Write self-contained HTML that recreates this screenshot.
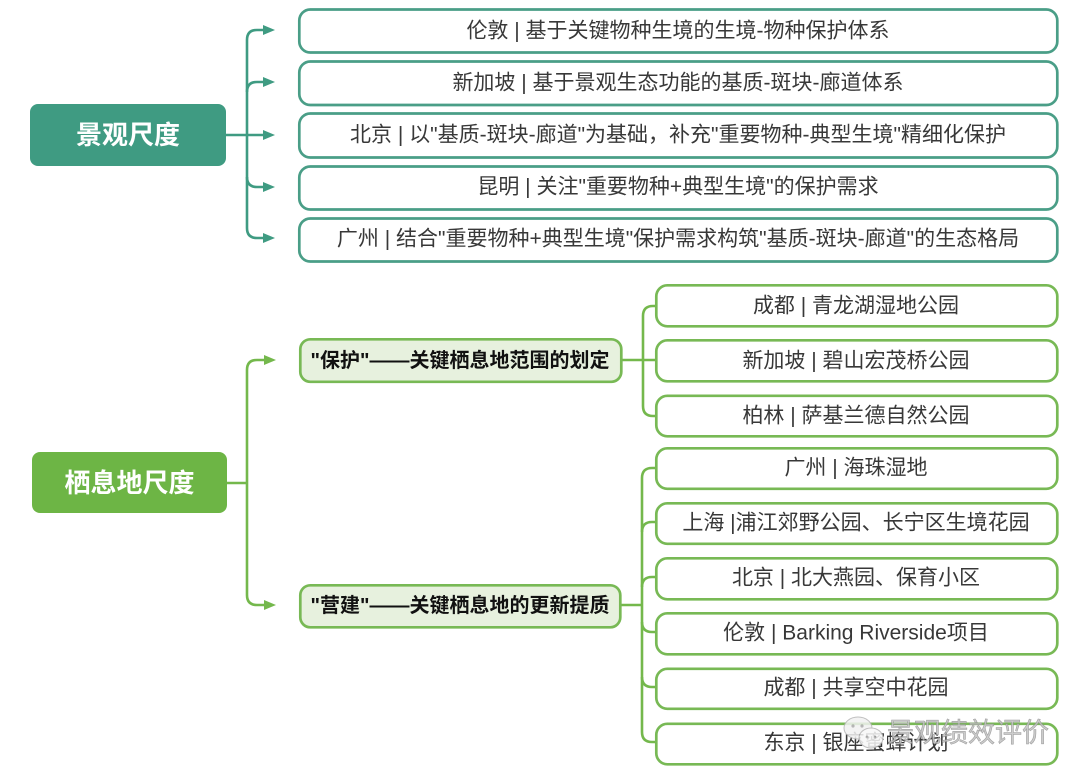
<!DOCTYPE html>
<html>
<head>
<meta charset="utf-8">
<style>
  html,body{margin:0;padding:0;background:#fff;}
  svg{display:block;}
  .t{font-family:"Liberation Sans","Noto Sans CJK SC",sans-serif;font-size:21px;fill:#383838;text-anchor:middle;dominant-baseline:central;}
  .r{font-family:"Liberation Sans","Noto Sans CJK SC",sans-serif;font-size:26px;font-weight:bold;fill:#fff;text-anchor:middle;dominant-baseline:central;}
  .s{font-family:"Liberation Sans","Noto Sans CJK SC",sans-serif;font-size:20px;font-weight:bold;fill:#111;text-anchor:middle;dominant-baseline:central;}
  .w{font-family:"Liberation Sans","Noto Sans CJK SC",sans-serif;font-size:27px;fill:#c4c4c4;stroke:#8f8f8f;stroke-width:0.6;text-anchor:start;dominant-baseline:central;opacity:0.85;}
</style>
</head>
<body>
<svg width="1080" height="783" viewBox="0 0 1080 783" xmlns="http://www.w3.org/2000/svg">
  <!-- ============ TOP SECTION (teal) ============ -->
  <g fill="none" stroke="#3f9b82" stroke-width="2.6">
    <line x1="226" y1="135" x2="264" y2="135"/>
    <line x1="247" y1="40" x2="247" y2="228"/>
    <path d="M247,40 Q247,30 257,30 L264,30"/>
    <path d="M247,92 Q247,82 257,82 L264,82"/>
    <path d="M247,177 Q247,187 257,187 L264,187"/>
    <path d="M247,228 Q247,238 257,238 L264,238"/>
  </g>
  <g fill="#3f9b82">
    <polygon points="263,25 275,30 263,35"/>
    <polygon points="263,77 275,82 263,87"/>
    <polygon points="263,130 275,135 263,140"/>
    <polygon points="263,182 275,187 263,192"/>
    <polygon points="263,233 275,238 263,243"/>
  </g>
  <rect x="30" y="104" width="196" height="62" rx="8" fill="#3f9b82"/>
  <text class="r" x="128" y="135">景观尺度</text>

  <g fill="#fff" stroke="#4a9e87" stroke-width="2.7">
    <rect x="299.3" y="9.5" width="758" height="43" rx="11"/>
    <rect x="299.3" y="61.5" width="758" height="43.5" rx="11"/>
    <rect x="299.3" y="113.5" width="758" height="44" rx="11"/>
    <rect x="299.3" y="166.5" width="758" height="43" rx="11"/>
    <rect x="299.3" y="218.5" width="758" height="43" rx="11"/>
  </g>
  <text class="t" x="678" y="31">伦敦 | 基于关键物种生境的生境-物种保护体系</text>
  <text class="t" x="678" y="83">新加坡 | 基于景观生态功能的基质-斑块-廊道体系</text>
  <text class="t" x="678" y="135">北京 | 以"基质-斑块-廊道"为基础，补充"重要物种-典型生境"精细化保护</text>
  <text class="t" x="678" y="187">昆明 | 关注"重要物种+典型生境"的保护需求</text>
  <text class="t" x="678" y="239">广州 | 结合"重要物种+典型生境"保护需求构筑"基质-斑块-廊道"的生态格局</text>

  <!-- ============ BOTTOM SECTION (green) ============ -->
  <g fill="none" stroke="#74b84c" stroke-width="2.6">
    <line x1="227" y1="483" x2="247" y2="483"/>
    <line x1="247" y1="370" x2="247" y2="595"/>
    <path d="M247,370 Q247,360 257,360 L265,360"/>
    <path d="M247,595 Q247,605 257,605 L265,605"/>
    <!-- group 1 -->
    <line x1="622" y1="360" x2="657" y2="360"/>
    <line x1="643" y1="316" x2="643" y2="406"/>
    <path d="M643,316 Q643,306 653,306 L657,306"/>
    <path d="M643,406 Q643,416 653,416 L657,416"/>
    <!-- group 2 -->
    <line x1="621" y1="605" x2="642" y2="605"/>
    <line x1="642" y1="478" x2="642" y2="732"/>
    <path d="M642,478 Q642,468 652,468 L657,468"/>
    <path d="M642,532 Q642,522 652,522 L657,522"/>
    <path d="M642,587 Q642,577 652,577 L657,577"/>
    <path d="M642,622 Q642,632 652,632 L657,632"/>
    <path d="M642,677 Q642,687 652,687 L657,687"/>
    <path d="M642,732 Q642,742 652,742 L657,742"/>
  </g>
  <g fill="#74b84c">
    <polygon points="264,355 276,360 264,365"/>
    <polygon points="264,600 276,605 264,610"/>
  </g>
  <rect x="32" y="452" width="195" height="61" rx="8" fill="#6db545"/>
  <text class="r" x="129.5" y="483">栖息地尺度</text>

  <g fill="#e7f1de" stroke="#78b955" stroke-width="2.7">
    <rect x="300.3" y="339.3" width="321" height="42.5" rx="10"/>
    <rect x="300.3" y="585.3" width="320" height="42" rx="10"/>
  </g>
  <text class="s" x="460" y="361">"保护"——关键栖息地范围的划定</text>
  <text class="s" x="460" y="606">"营建"——关键栖息地的更新提质</text>

  <g fill="#fff" stroke="#78b955" stroke-width="2.7">
    <rect x="656.3" y="285.3" width="401" height="41" rx="11"/>
    <rect x="656.3" y="340.3" width="401" height="41" rx="11"/>
    <rect x="656.3" y="395.8" width="401" height="40.5" rx="11"/>
    <rect x="656.3" y="448.3" width="401" height="40.5" rx="11"/>
    <rect x="656.3" y="503.3" width="401" height="40.5" rx="11"/>
    <rect x="656.3" y="558.3" width="401" height="41" rx="11"/>
    <rect x="656.3" y="613.3" width="401" height="41" rx="11"/>
    <rect x="656.3" y="668.8" width="401" height="40" rx="11"/>
    <rect x="656.3" y="723.8" width="401" height="40.5" rx="11"/>
  </g>
  <text class="t" x="856" y="306">成都 | 青龙湖湿地公园</text>
  <text class="t" x="856" y="361">新加坡 | 碧山宏茂桥公园</text>
  <text class="t" x="856" y="416">柏林 | 萨基兰德自然公园</text>
  <text class="t" x="856" y="468">广州 | 海珠湿地</text>
  <text class="t" x="856" y="523">上海 |浦江郊野公园、长宁区生境花园</text>
  <text class="t" x="856" y="578">北京 | 北大燕园、保育小区</text>
  <text class="t" x="856" y="633">伦敦 | Barking Riverside项目</text>
  <text class="t" x="856" y="688">成都 | 共享空中花园</text>
  <text class="t" x="856" y="743">东京 | 银座蜜蜂计划</text>

  <!-- watermark -->
  <g opacity="0.85">
    <ellipse cx="858" cy="728" rx="14" ry="11" fill="#f2f2f2" stroke="#b5b5b5" stroke-width="1"/>
    <ellipse cx="871" cy="738" rx="12" ry="10" fill="#f7f7f7" stroke="#b5b5b5" stroke-width="1"/>
    <circle cx="853" cy="726" r="1.6" fill="#aaa"/>
    <circle cx="862" cy="726" r="1.6" fill="#aaa"/>
    <circle cx="867" cy="737" r="1.4" fill="#aaa"/>
    <circle cx="875" cy="737" r="1.4" fill="#aaa"/>
  </g>
  <text class="w" x="887" y="733">景观绩效评价</text>
</svg>
</body>
</html>
